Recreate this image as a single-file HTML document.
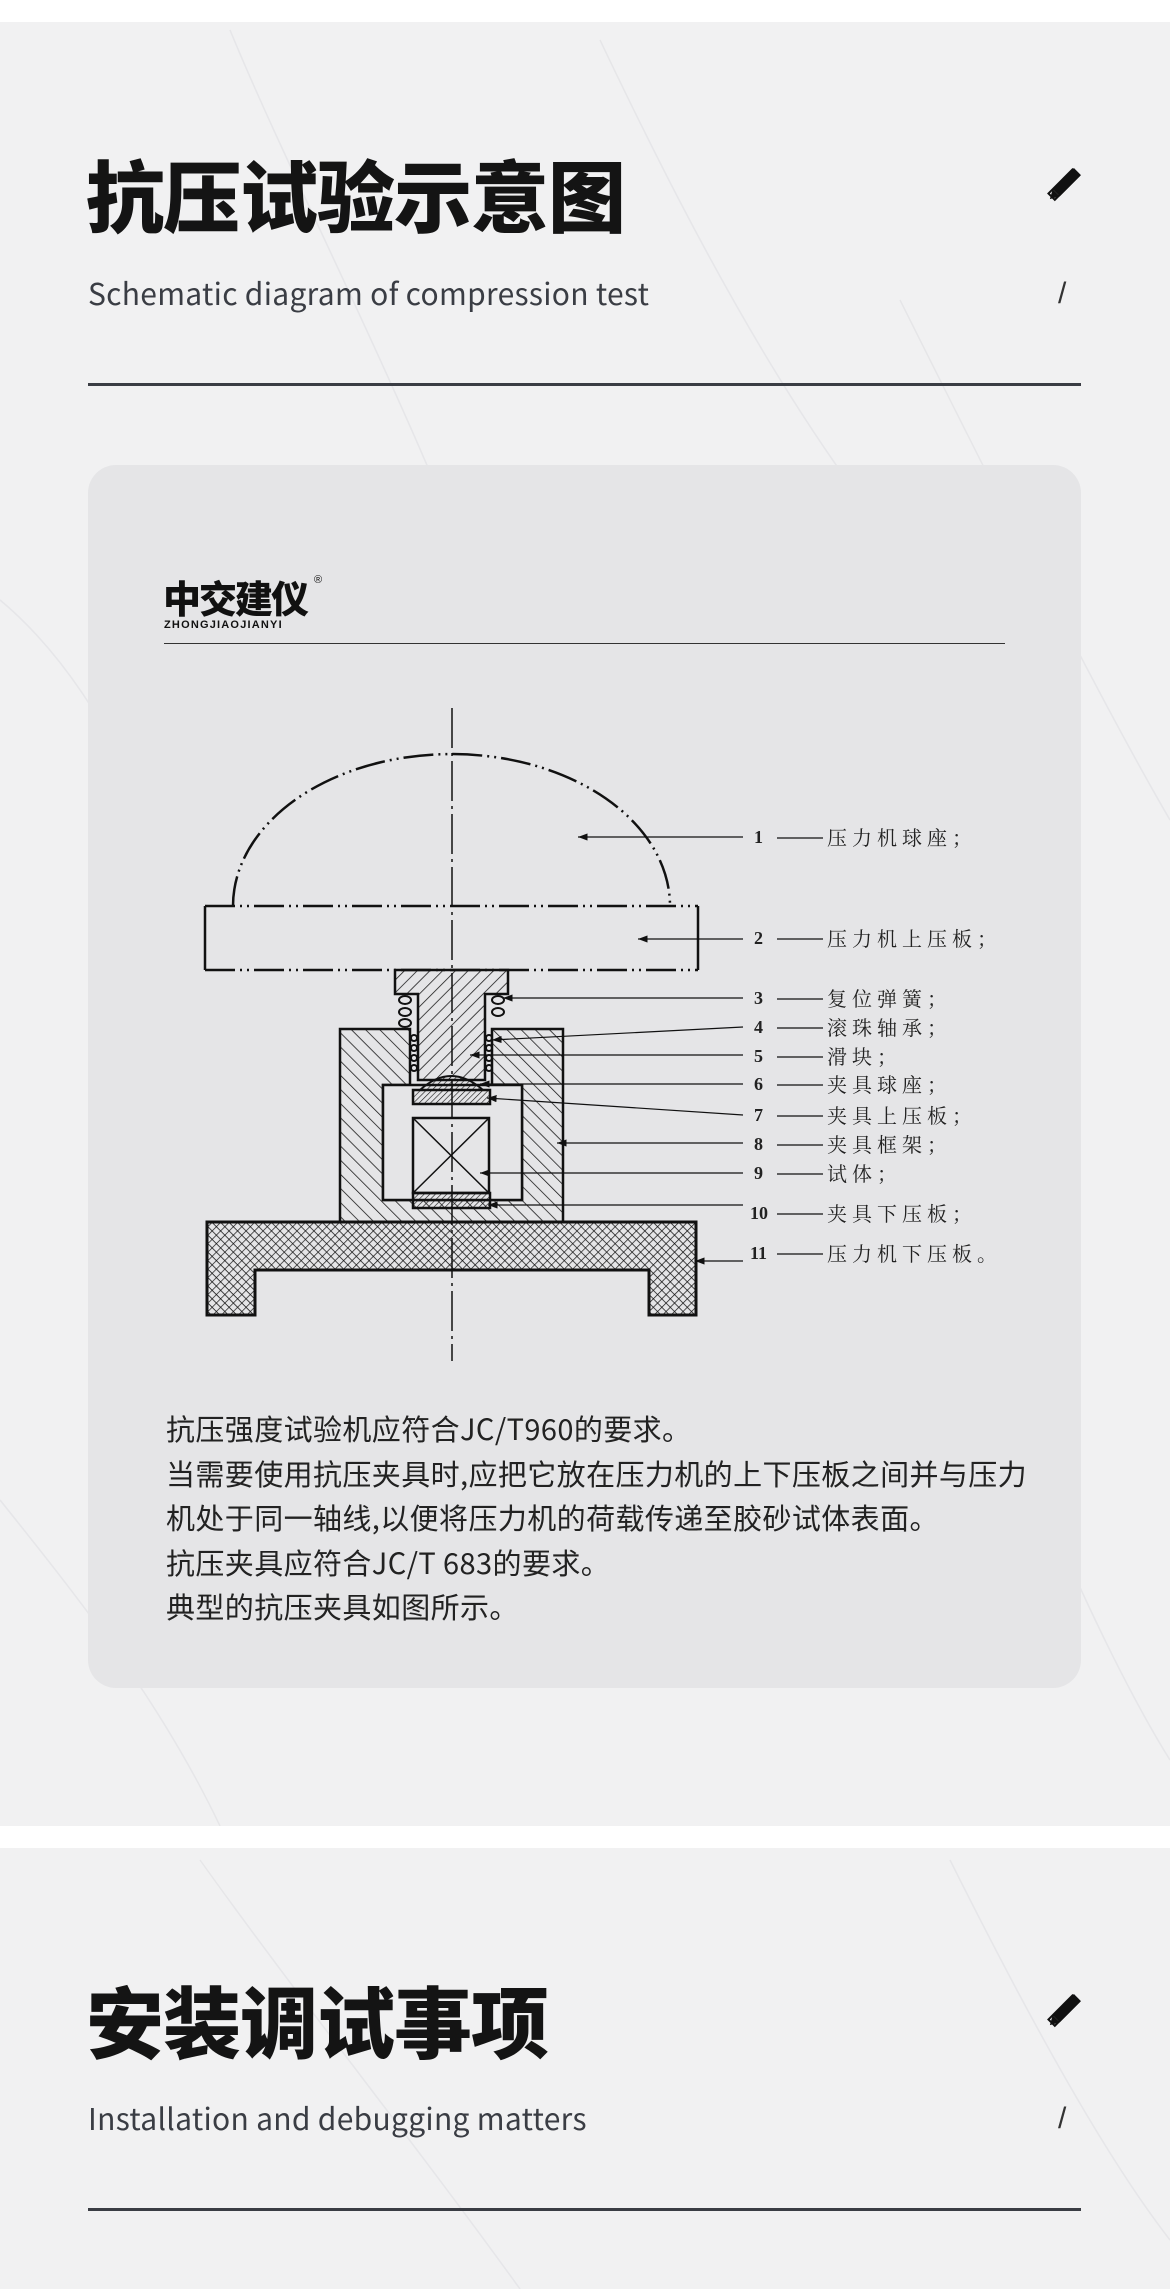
<!DOCTYPE html>
<html><head><meta charset="utf-8">
<style>
html,body{margin:0;padding:0;}
body{width:1170px;height:2289px;position:relative;overflow:hidden;background:#f1f1f2;font-family:"Liberation Sans","Noto Sans CJK SC",sans-serif;}
.band{position:absolute;left:0;width:1170px;background:#fff;}
.title{position:absolute;left:86px;font-family:"Noto Sans CJK SC",sans-serif;font-weight:900;font-size:78px;color:#141414;line-height:1;letter-spacing:-1px;}
.sub{position:absolute;left:88px;font-family:"Noto Sans CJK SC","Liberation Sans",sans-serif;font-size:30px;color:#3a3d44;line-height:1;letter-spacing:0.3px;}
.rule{position:absolute;left:88px;width:993px;height:3px;background:#3a3d44;}
.slash{position:absolute;left:1058px;font-size:30px;color:#333;line-height:1;font-family:"Liberation Sans",sans-serif;}
.card{position:absolute;left:88px;top:465px;width:993px;height:1223px;border-radius:28px;background:#e5e5e7;}
.para{position:absolute;left:166px;top:1406px;font-family:"Noto Sans CJK SC",sans-serif;font-size:29px;line-height:44.6px;color:#222;letter-spacing:0.4px;}
</style></head><body>
<svg style="position:absolute;left:0;top:0" width="1170" height="2289">
<g stroke="#dcdce0" stroke-width="1.5" fill="none" opacity="0.5">
<path d="M230 30 C300 200 420 420 520 700"/><path d="M600 40 C700 250 820 480 980 640"/>
<path d="M0 600 C120 700 200 900 260 1200"/><path d="M900 300 C1000 500 1100 700 1170 820"/>
<path d="M0 1500 C80 1600 160 1700 220 1826"/><path d="M1000 1400 C1060 1550 1120 1680 1170 1760"/>
<path d="M200 1860 C300 2000 420 2150 520 2289"/><path d="M950 1860 C1020 2000 1100 2150 1170 2240"/>
</g>
</svg>
<div class="band" style="top:0;height:22px"></div>
<div class="band" style="top:1826px;height:22px"></div>

<div class="title" style="top:154px">抗压试验示意图</div>
<div class="sub" style="top:277px">Schematic diagram of compression test</div>
<div class="slash" style="top:279px">/</div>
<div class="rule" style="top:383px"></div>

<div class="title" style="top:1980px">安装调试事项</div>
<div class="sub" style="top:2102px">Installation and debugging matters</div>
<div class="slash" style="top:2104px">/</div>
<div class="rule" style="top:2208px"></div>

<svg style="position:absolute;left:1043px;top:164px" width="42" height="42" viewBox="0 0 42 42">
<g transform="rotate(45 21 21)"><rect x="16" y="2" width="10" height="30" fill="#111"/><polygon points="16,32 26,32 21,41" fill="#111"/></g>
<g transform="rotate(-45 21 21)" fill="none" stroke="#111" stroke-width="2"><rect x="4" y="16" width="34" height="9"/></g>
</svg>
<svg style="position:absolute;left:1043px;top:1990px" width="42" height="42" viewBox="0 0 42 42">
<g transform="rotate(45 21 21)"><rect x="16" y="2" width="10" height="30" fill="#111"/><polygon points="16,32 26,32 21,41" fill="#111"/></g>
<g transform="rotate(-45 21 21)" fill="none" stroke="#111" stroke-width="2"><rect x="4" y="16" width="34" height="9"/></g>
</svg>

<div class="card"></div>
<div style="position:absolute;left:163px;top:578px;font-family:'Noto Sans CJK SC',sans-serif;font-weight:900;font-size:38px;line-height:1;color:#111;letter-spacing:-2px;">中交建仪</div>
<div style="position:absolute;left:314px;top:574px;font-size:11px;color:#111;">®</div>
<div style="position:absolute;left:164px;top:620px;font-size:11px;line-height:1;color:#111;letter-spacing:1.2px;font-weight:bold;">ZHONGJIAOJIANYI</div>
<div style="position:absolute;left:164px;top:643px;width:841px;height:1px;background:#333;"></div>

<svg style="position:absolute;left:0;top:0" width="1170" height="1400">
<defs>
<pattern id="h1" width="9" height="9" patternUnits="userSpaceOnUse" patternTransform="rotate(45)"><line x1="0" y1="0" x2="0" y2="9" stroke="#111" stroke-width="1.5"/></pattern>
<pattern id="h2" width="10" height="10" patternUnits="userSpaceOnUse" patternTransform="rotate(-45)"><line x1="0" y1="0" x2="0" y2="10" stroke="#111" stroke-width="1.5"/></pattern>
<pattern id="h3" width="4" height="4" patternUnits="userSpaceOnUse" patternTransform="rotate(45)"><line x1="0" y1="0" x2="0" y2="4" stroke="#111" stroke-width="1.2"/></pattern>
<pattern id="xh" width="6" height="6" patternUnits="userSpaceOnUse" patternTransform="rotate(45)"><path d="M0 0V6M0 0H6" stroke="#111" stroke-width="1.4" fill="none"/></pattern>
<marker id="ar" markerWidth="8" markerHeight="6" refX="0" refY="3" orient="auto"><path d="M0 3 L8 0 L8 6Z" fill="#111"/></marker>
</defs>
<g stroke="#111" fill="none">
<path d="M233 906 A218.5 152 0 0 1 670 906" stroke-width="2.5" stroke-dasharray="30 5 2 5 2 5"/>
<line x1="205" y1="906" x2="698" y2="906" stroke-width="2.5" stroke-dasharray="30 5 2 5 2 5"/>
<line x1="205" y1="970" x2="698" y2="970" stroke-width="2.5" stroke-dasharray="30 5 2 5 2 5"/>
<line x1="205" y1="906" x2="205" y2="970" stroke-width="2.5"/>
<line x1="698" y1="906" x2="698" y2="970" stroke-width="2.5"/>
<polygon points="340,1029 410,1029 410,1085 383,1085 383,1200 522,1200 522,1085 492,1085 492,1029 563,1029 563,1222 340,1222" fill="url(#h2)" stroke-width="2.5"/>
<polygon points="395,970 508,970 508,994 485,994 485,1080 418,1080 418,994 395,994" fill="url(#h1)" stroke-width="2.5"/>
<rect x="383" y="1085" width="139" height="115" fill="#e5e5e7" stroke="none"/>
<polygon points="383,1085 383,1200 522,1200 522,1085" stroke-width="2.5"/>
<path d="M420 1090 Q451 1062 483 1090 Z" fill="url(#h3)" stroke-width="2"/>
<rect x="413" y="1090" width="77" height="14" fill="url(#h3)" stroke-width="2.5"/>
<rect x="413" y="1118" width="76" height="75" fill="#e5e5e7" stroke-width="2.5"/>
<path d="M413 1118 L489 1193 M489 1118 L413 1193" stroke-width="1.5"/>
<rect x="413" y="1193" width="77" height="15" fill="url(#h3)" stroke-width="2.5"/>
<path d="M207 1222 H696 V1315 H649 V1270 H255 V1315 H207 Z" fill="url(#xh)" stroke-width="3"/>
<g stroke-width="2">
<ellipse cx="405" cy="1000" rx="6" ry="4"/><ellipse cx="405" cy="1012" rx="6" ry="4"/><ellipse cx="405" cy="1023" rx="6" ry="4"/>
<ellipse cx="498" cy="1000" rx="6" ry="4"/><ellipse cx="498" cy="1012" rx="6" ry="4"/>
<ellipse cx="414" cy="1038" rx="3" ry="3"/><ellipse cx="414" cy="1048" rx="3" ry="3"/><ellipse cx="414" cy="1058" rx="3" ry="3"/><ellipse cx="414" cy="1068" rx="3" ry="3"/>
<ellipse cx="489" cy="1038" rx="3" ry="3"/><ellipse cx="489" cy="1048" rx="3" ry="3"/><ellipse cx="489" cy="1058" rx="3" ry="3"/><ellipse cx="489" cy="1068" rx="3" ry="3"/>
</g>
<line x1="452" y1="708" x2="452" y2="1361" stroke-width="1.5" stroke-dasharray="40 5 3 5"/>
<g stroke-width="1.2" marker-start="url(#ar)">
<line x1="578" y1="837" x2="743" y2="837"/>
<line x1="638" y1="939" x2="743" y2="939"/>
<line x1="503" y1="998" x2="743" y2="998"/>
<line x1="492" y1="1040" x2="743" y2="1027"/>
<line x1="470" y1="1055" x2="743" y2="1055"/>
<line x1="480" y1="1084" x2="743" y2="1084"/>
<line x1="487" y1="1098" x2="743" y2="1115"/>
<line x1="557" y1="1143" x2="743" y2="1143"/>
<line x1="480" y1="1173" x2="743" y2="1173"/>
<line x1="488" y1="1205" x2="743" y2="1205"/>
<line x1="695" y1="1261" x2="743" y2="1261"/>
</g>
<g stroke-width="1.2">
<line x1="777" y1="838" x2="823" y2="838"/><line x1="777" y1="939" x2="823" y2="939"/>
<line x1="777" y1="999" x2="823" y2="999"/><line x1="777" y1="1028" x2="823" y2="1028"/>
<line x1="777" y1="1057" x2="823" y2="1057"/><line x1="777" y1="1085" x2="823" y2="1085"/>
<line x1="777" y1="1116" x2="823" y2="1116"/><line x1="777" y1="1145" x2="823" y2="1145"/>
<line x1="777" y1="1174" x2="823" y2="1174"/><line x1="777" y1="1214" x2="823" y2="1214"/>
<line x1="777" y1="1254" x2="823" y2="1254"/>
</g>
</g>
<g font-family="'Liberation Serif','Noto Serif CJK SC',serif" fill="#222" font-size="18" font-weight="bold">
<text x="754" y="843">1</text><text x="754" y="944">2</text><text x="754" y="1004">3</text><text x="754" y="1033">4</text><text x="754" y="1062">5</text><text x="754" y="1090">6</text><text x="754" y="1121">7</text><text x="754" y="1150">8</text><text x="754" y="1179">9</text><text x="750" y="1219">10</text><text x="750" y="1259">11</text>
</g>
<g font-family="'Noto Serif CJK SC',serif" fill="#222" font-size="20" letter-spacing="5">
<text x="827" y="845">压力机球座；</text>
<text x="827" y="946">压力机上压板；</text>
<text x="827" y="1006">复位弹簧；</text>
<text x="827" y="1035">滚珠轴承；</text>
<text x="827" y="1064">滑块；</text>
<text x="827" y="1092">夹具球座；</text>
<text x="827" y="1123">夹具上压板；</text>
<text x="827" y="1152">夹具框架；</text>
<text x="827" y="1181">试体；</text>
<text x="827" y="1221">夹具下压板；</text>
<text x="827" y="1261">压力机下压板。</text>
</g>
</svg>

<div class="para">抗压强度试验机应符合JC/T960的要求。<br>当需要使用抗压夹具时,应把它放在压力机的上下压板之间并与压力<br>机处于同一轴线,以便将压力机的荷载传递至胶砂试体表面。<br>抗压夹具应符合JC/T 683的要求。<br>典型的抗压夹具如图所示。</div>
</body></html>
